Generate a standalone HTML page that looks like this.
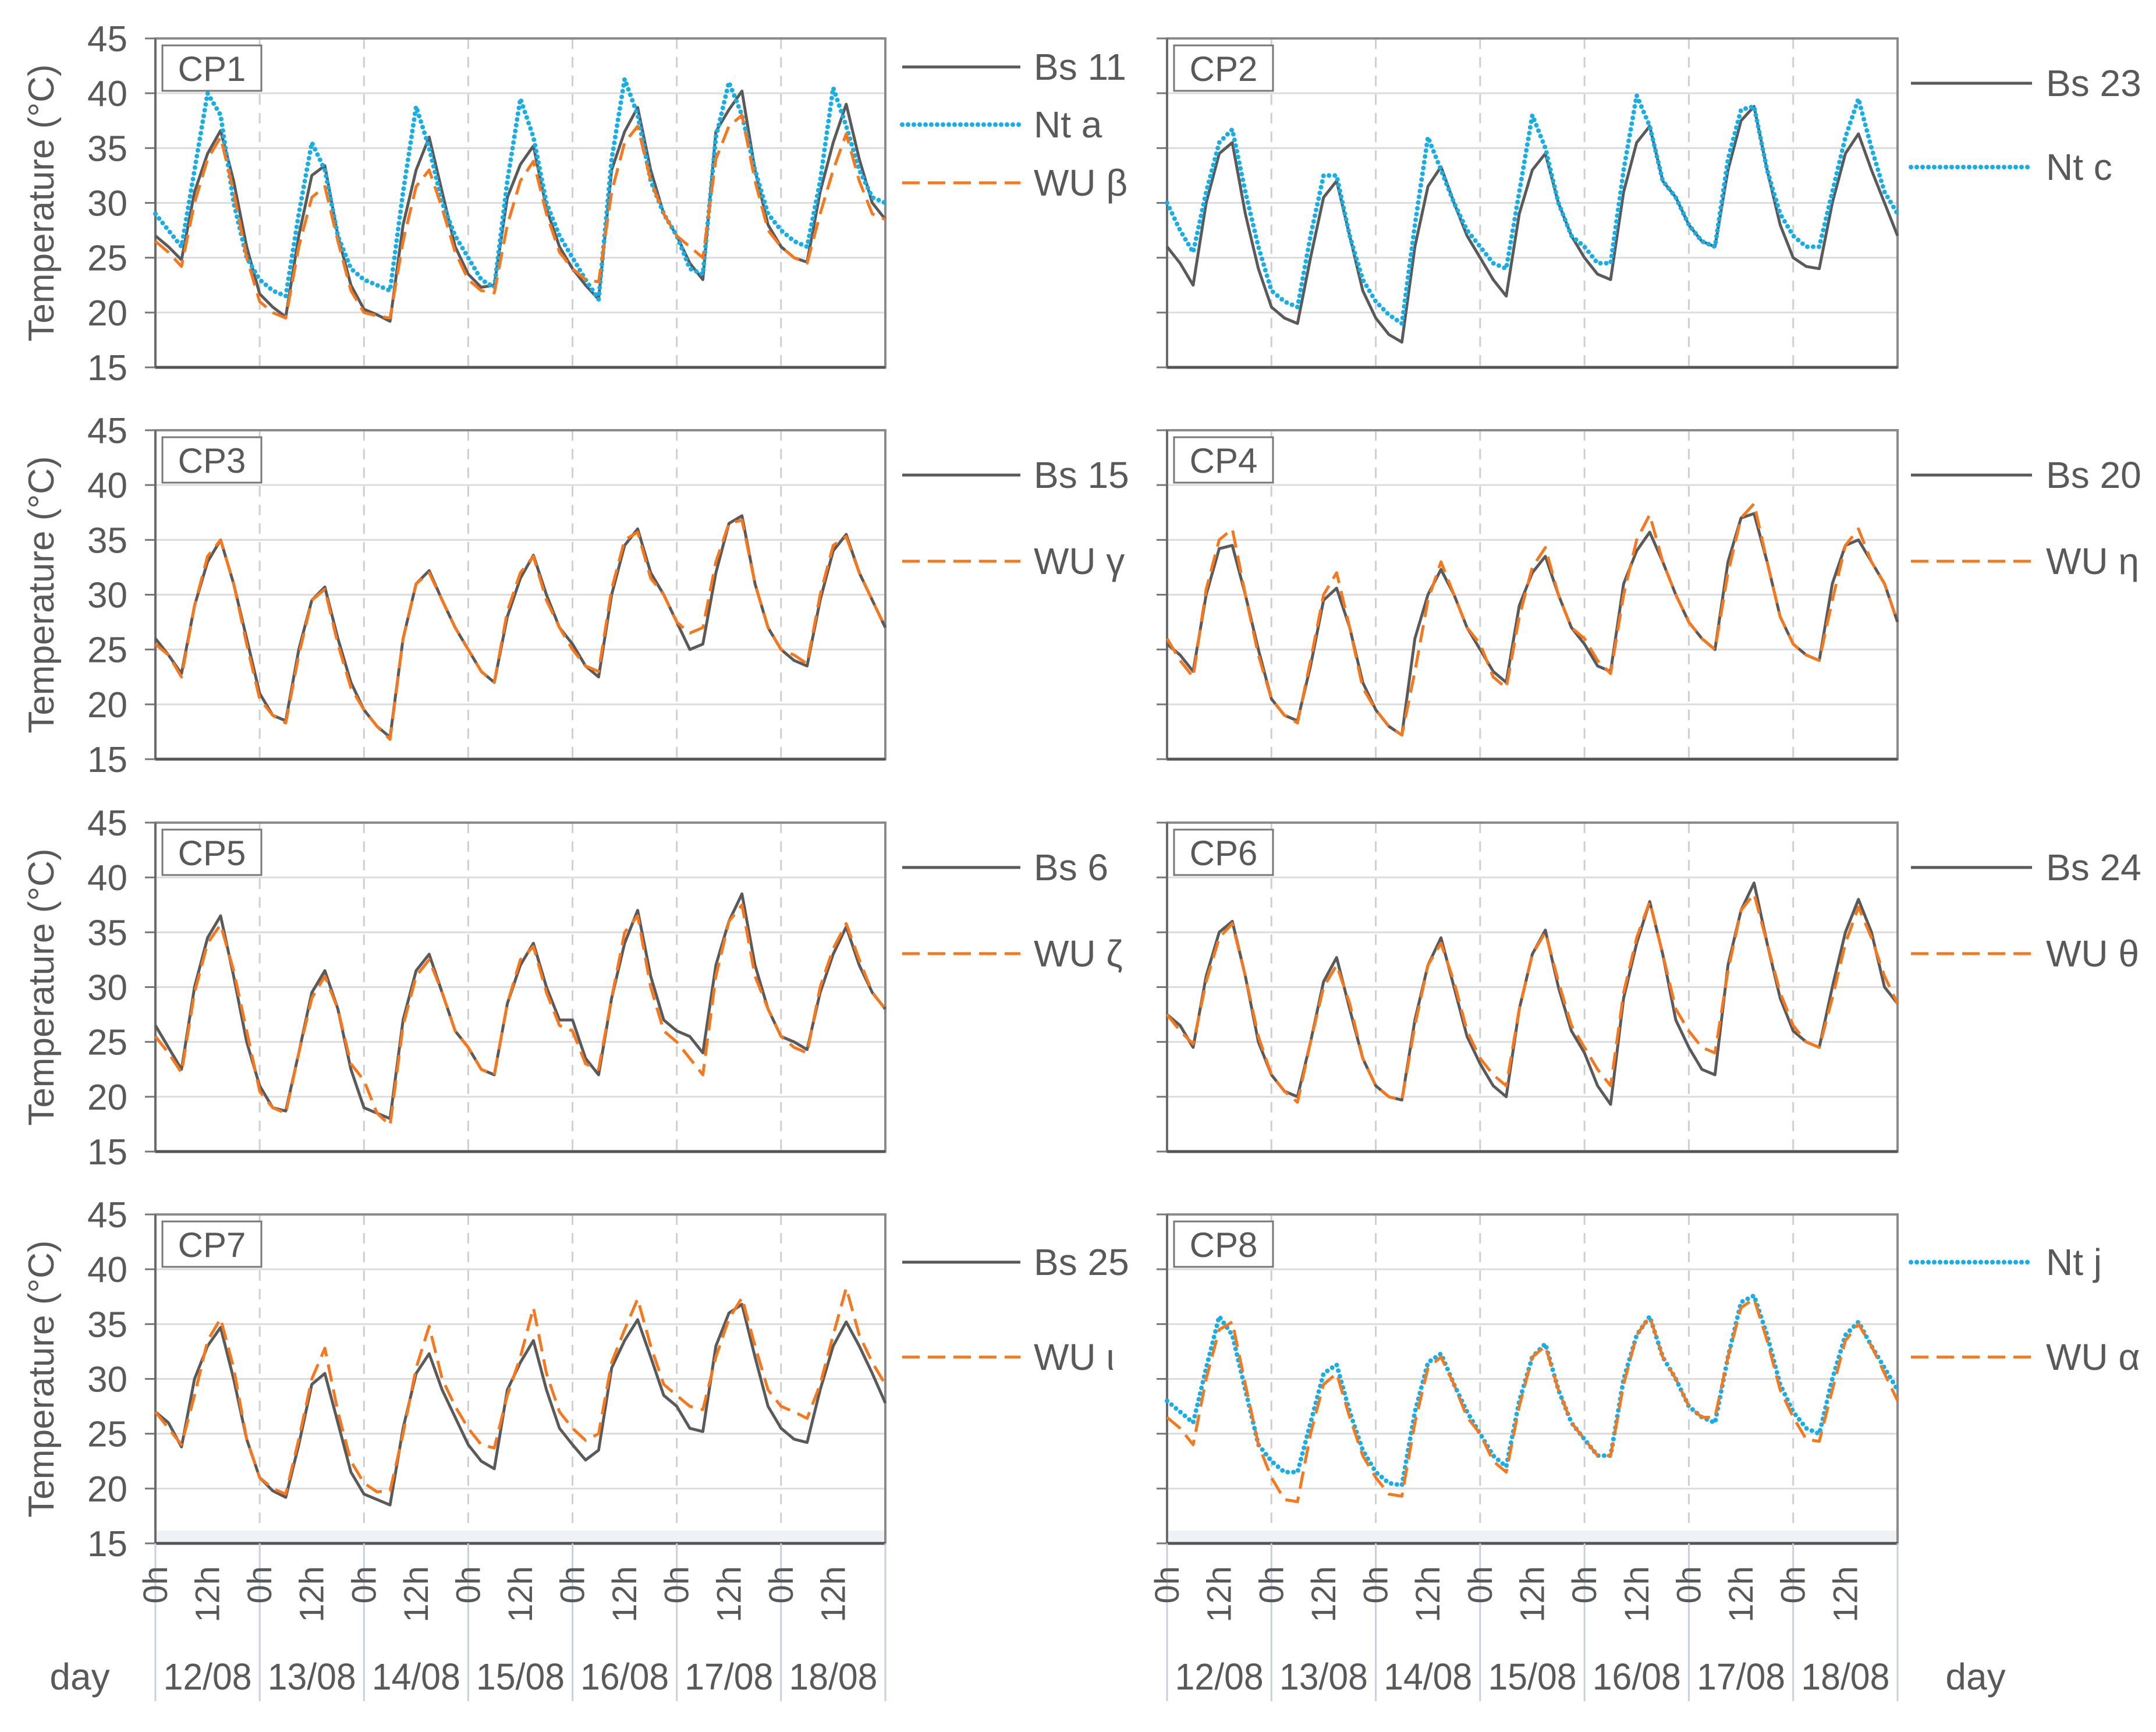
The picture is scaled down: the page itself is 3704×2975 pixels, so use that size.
<!DOCTYPE html>
<html><head><meta charset="utf-8"><style>
html,body{margin:0;padding:0;background:#fff;}
svg{display:block;font-family:"Liberation Sans","DejaVu Sans",sans-serif;}
</style></head><body>
<svg id="chart" width="3704" height="2975" viewBox="0 0 3704 2975" xmlns="http://www.w3.org/2000/svg"></svg>
<script>
const hours=[0,3,6,9,12,15,18,21,24,27,30,33,36,39,42,45,48,51,54,57,60,63,66,69,72,75,78,81,84,87,90,93,96,99,102,105,108,111,114,117,120,123,126,129,132,135,138,141,144,147,150,153,156,159,162,165,168];
const yTicks=[15,20,25,30,35,40,45];
const dayLabels=["12/08","13/08","14/08","15/08","16/08","17/08","18/08"];
const hourLabels=["0h","12h"];
const cp1Bs=[27,26,24.8,31,34.5,36.6,32,26,21.7,20.5,19.6,27,32.5,33.4,27,22.5,20.3,19.8,19.2,28,33,36,31,26,23.5,22.3,22.5,30.5,33.5,35.2,29.5,26,24,22.5,21.2,33,36.5,38.7,33,29,27,24.5,23,36.5,38.5,40.2,33,28,26,25,24.6,31,35.5,39,34,30,28.5];
const cp1Nt=[29,27.5,26,33,40,38,30,25,23,22,21.5,29,35.5,33,27,24,23,22.5,22,31,38.8,35,30,27,25,23,22.3,32,39.5,36,30,27,25,23,21.2,34,41.3,38,32,29,27,24,23.5,36,41,38,33,29,27.5,26.5,26,32,40.5,37,33,30.5,30];
const cp1Wu=[26.5,25.5,24.2,30,34,36,31,25,21,20,19.5,26,30.5,31.5,26.5,22,20,19.7,19.5,26.5,31.5,33,29.5,25.5,23,22,21.8,28,32,33.8,29,25.5,24,23,22.8,31,35.5,37,32,29,27,26,25,34,37,38,32,27.5,26,25,24.5,29,33,36.3,32,29,28.5];
const cp2Bs=[26,24.5,22.5,30,34.5,35.5,29,24,20.5,19.5,19,25,30.5,32,27,22,19.5,18,17.3,26,31.5,33.3,30,27,25,23,21.5,29,33,34.5,30,27,25,23.5,23,31,35.5,37,32,30.5,28,26.5,26,33,37.5,38.8,33,28,25,24.2,24,30,34.5,36.3,33,30,27];
const cp2Nt=[30,27.5,25.5,31,35.5,36.7,31,26,22,21,20.5,27,32.5,32.5,27,23,21,19.8,19,28,36,33,30,27.5,26,24.5,24,31,38,35,30,27,26,24.5,24.5,33,39.8,37,32,30.5,28,26.5,26,34,38.5,38.8,33,29,27,26,26,31,36,39.5,35,31,29];
const cp3Bs=[26,24.5,22.8,29,33,35,31,26,21,19,18.5,25,29.5,30.7,26,22,19.5,18,17,26,31,32.2,29.5,27,25,23,22,28,31.5,33.6,30,27,25.5,23.5,22.5,30,34.5,36,32,30,27.5,25,25.5,32,36.5,37.2,31,27,25,24,23.5,29.5,34,35.5,32,29.5,27];
const cp3Wu=[25.5,24.5,22.5,29,33.5,35,31,25.5,20.5,19,18.3,24.5,29.5,30.5,25.5,21.5,19.5,18,16.8,26,31,32,29.5,27,25,23,22,28.5,32,33.5,29.5,27,25,23.5,23,30.5,35,35.7,31.5,30,27.5,26.5,27,33,36.5,36.8,31,27,25,24.5,23.7,30,34.5,35.3,32,29.5,27];
const cp4Bs=[25.5,24.5,23,30,34.2,34.5,30,25,20.5,19,18.5,23.5,29.5,30.6,27,22,19.5,18,17.2,26,30,32.3,30,27,25,23,22,29,32,33.5,30,27,25.5,23.5,23,31,34,35.7,33,30,27.5,26,25,33,37,37.4,33,28,25.5,24.5,24,31,34.5,35,33,31,27.5];
const cp4Wu=[26,24,22.5,30.5,35,36,30,24.5,20.5,19,18.3,24,30,32,27,21.5,19.5,18,17.2,23,29.5,33,30,27,25.5,22.5,21.5,28,32.5,34.3,30,27,26,24,22.8,30,35,37.3,33,30,27.5,26,25,32,37,38.3,33,28,25.5,24.5,24,29.5,34.5,36,33,31,27.5];
const cp5Bs=[26.5,24.5,22.5,30,34.5,36.5,31,25,21,19,18.7,24,29.5,31.5,28,22.5,19,18.5,18,27,31.5,33,29.5,26,24.5,22.5,22,28.5,32,34,30,27,27,23.5,22,29,34,37,31,27,26,25.5,24,32,36,38.5,32,28,25.5,25,24.3,29.5,33,35.5,32,29.5,28];
const cp5Wu=[25.5,24,22.2,29.5,34,35.7,31.5,26,20.5,19,18.5,24,29,31,28,23,21.5,18.5,17.4,26.5,31,32.5,29.5,26,24.5,22.5,22,28.5,32.5,33.7,29.5,26.5,26,23,22.5,29,35,36.5,30,26,25,23.5,22,31,36,37.5,31,28,25.5,24.5,24,30,33.5,35.8,32.5,29.5,28];
const cp6Bs=[27.5,26.5,24.5,31,35,36,31,25,22,20.5,20,25,30.5,32.7,28,23.5,21,20,19.7,27,32,34.5,30,25.5,23,21,20,28,33,35.2,30,26,24,21,19.3,29,34,37.8,33,27,24.5,22.5,22,32,37,39.5,34,29,26,25,24.5,30,35,38,35,30,28.5];
const cp6Wu=[27.5,26,24.8,30.5,34.5,35.8,31,25.5,22,20.5,19.5,25,30,32,28.5,23.5,21,20,19.7,26.5,32,34,30.5,26,23.5,22,21,28,33,35,30.5,26.5,24.5,22.5,21,29.5,34.5,37.8,33,28,26,24.5,24,31.5,37,38.5,34,29.5,26.5,25,24.5,29,34,37.3,34.5,31,28.5];
const cp7Bs=[27,26,23.8,30,33,34.7,30,24.5,21,19.8,19.2,24,29.5,30.5,26,21.5,19.5,19,18.5,25.5,30.5,32.3,29,26.5,24,22.5,21.8,29,31.5,33.5,29,25.5,24,22.6,23.5,31,33.5,35.4,32,28.5,27.5,25.5,25.2,33,36,36.8,32,27.5,25.5,24.5,24.2,29,33,35.2,33,30.5,27.8];
const cp7Wu=[27,25.5,24,28.5,33.5,35.5,31,24.5,21,20,19.5,24.5,30,32.8,27,22.5,20.5,19.7,19.8,25,31,34.8,30,27.5,25.5,24,23.7,28.5,32,36.5,30.5,27,25.5,24.4,25,31.5,34.5,37.3,33,29.5,28.5,27.5,27.2,32,35.5,37.4,33,29,27.5,27,26.4,29.5,34,38.3,34,31.5,29.5];
const cp8Nt=[28,27,26,31,35.7,34,29,24,22.5,21.5,21.5,26,30.5,31.3,27,23.5,21.5,20.5,20.3,27,31.5,32.3,29.5,27,25,23,22,28,32,33.2,29,26,24.5,23,23,30,34,35.7,32,30,27.5,26.5,26,32,37,37.6,34,29.5,27,25.5,25,30,34,35.2,33,31,29];
const cp8Wu=[26.5,25.5,24,30,34.5,35.2,29.5,24,21,19,18.8,25,29.5,30.5,26.5,23,21,19.5,19.3,26,31,32,29.5,26.5,25,22.5,21.5,27.5,32,33,29,26,24.5,23,23,29.5,34,35.7,32,30,27.5,26.5,26.5,32,36.5,37.3,33.5,29,26.5,24.5,24.3,29,33.5,35,33,30.5,28];

const svg=document.getElementById('chart');
const NS='http://www.w3.org/2000/svg';
function mk(tag,attrs,parent){const e=document.createElementNS(NS,tag);for(const k in attrs)e.setAttribute(k,attrs[k]);(parent||svg).appendChild(e);return e;}
const STY={bs:{stroke:'#5a5a5a',w:5,dash:null,cap:'butt'},nt:{stroke:'#17ade6',w:8,dash:'0 10',cap:'round'},wu:{stroke:'#f5781e',w:5,dash:'30 14',cap:'butt'}};
const COLS=[{x0:267,x1:1521,legLine:1550,legLineEnd:1753,legText:1776},{x0:2005,x1:3260,legLine:3283,legLineEnd:3491,legText:3515}];
const ROWS=[66,739,1413,2086];const PH=565;
const panels=[
 {name:'CP1',col:0,row:0,series:[['bs','Bs 11',cp1Bs],['nt','Nt a',cp1Nt],['wu','WU β',cp1Wu]],legY:[49,148,248]},
 {name:'CP2',col:1,row:0,series:[['bs','Bs 23',cp2Bs],['nt','Nt c',cp2Nt]],legY:[77,221]},
 {name:'CP3',col:0,row:1,series:[['bs','Bs 15',cp3Bs],['wu','WU γ',cp3Wu]],legY:[77,225]},
 {name:'CP4',col:1,row:1,series:[['bs','Bs 20',cp4Bs],['wu','WU η',cp4Wu]],legY:[77,225]},
 {name:'CP5',col:0,row:2,series:[['bs','Bs 6',cp5Bs],['wu','WU ζ',cp5Wu]],legY:[77,225]},
 {name:'CP6',col:1,row:2,series:[['bs','Bs 24',cp6Bs],['wu','WU θ',cp6Wu]],legY:[77,225]},
 {name:'CP7',col:0,row:3,series:[['bs','Bs 25',cp7Bs],['wu','WU ι',cp7Wu]],legY:[82,245]},
 {name:'CP8',col:1,row:3,series:[['nt','Nt j',cp8Nt],['wu','WU α',cp8Wu]],legY:[82,245]}
];
panels.forEach(p=>{
 const C=COLS[p.col],top=ROWS[p.row],bot=top+PH;
 const xs=h=>C.x0+(h/168)*(C.x1-C.x0);
 const ys=v=>bot-(v-15)/30*PH;
 const g=mk('g',{});
 
 
 yTicks.forEach(t=>{
  if(t>15&&t<45){const l=mk('line',{x1:C.x0,x2:C.x1,y1:ys(t),y2:ys(t),stroke:'#dcdcdc','stroke-width':3},g);
   }
  const tk=mk('line',{x1:C.x0-18,x2:C.x0,y1:ys(t),y2:ys(t),stroke:'#777','stroke-width':3},g);
  
  if(p.col===0){const tx=mk('text',{x:C.x0-48,y:ys(t)+22,'text-anchor':'end','font-size':62,fill:'#595959'},g);tx.textContent=t;
   }
 });
 for(let d=1;d<7;d++){const x=xs(d*24);const l=mk('line',{x1:x,x2:x,y1:top,y2:bot,stroke:'#cfcfcf','stroke-width':3,'stroke-dasharray':'18 14'},g);
  }
 if(p.row===3){const hs=mk('rect',{x:C.x0,y:bot-22,width:C.x1-C.x0,height:22,fill:'#eef1f6'},g);
  }
 const fr=mk('rect',{x:C.x0,y:top,width:C.x1-C.x0,height:PH,fill:'none',stroke:'#8a8a8a','stroke-width':4},g);
 
 const ax=mk('line',{x1:C.x0,x2:C.x0,y1:top,y2:bot,stroke:'#6a6a6a','stroke-width':4},g);
 
 const bx=mk('line',{x1:C.x0,x2:C.x1,y1:bot,y2:bot,stroke:'#555','stroke-width':5},g);
 
 p.series.forEach((s,i)=>{
  const st=STY[s[0]];const vals=s[2];
  const pts=vals.map((v,j)=>xs(hours[j]).toFixed(1)+','+ys(v).toFixed(1)).join(' ');
  const a={points:pts,fill:'none',stroke:st.stroke,'stroke-width':st.w,'stroke-linecap':st.cap,'stroke-linejoin':'round'};
  if(st.dash)a['stroke-dasharray']=st.dash;
  const pl=mk('polyline',a,g);
  
  
  const ly=top+p.legY[i];
  const lg=mk('g',{},g);
  
  
  const la={x1:C.legLine,x2:C.legLineEnd,y1:ly,y2:ly,stroke:st.stroke,'stroke-width':st.w,'stroke-linecap':st.cap};
  if(st.dash)la['stroke-dasharray']=st.dash;
  mk('line',la,lg);
  const lt=mk('text',{x:C.legText,y:ly+22,'font-size':64,fill:'#595959'},lg);lt.textContent=s[1];
 });
 const lb=mk('g',{},g);
 
 
 mk('rect',{x:C.x0+12,y:top+12,width:170,height:78,fill:'#fff',stroke:'#777','stroke-width':3},lb);
 const lt=mk('text',{x:C.x0+97,y:top+73,'text-anchor':'middle','font-size':60,fill:'#595959'},lb);lt.textContent=p.name;
 if(p.col===0){const yt=mk('text',{x:0,y:0,transform:`translate(92,${top+PH/2}) rotate(-90)`,'text-anchor':'middle','font-size':62,fill:'#595959'},g);
  yt.textContent='Temperature (°C)';}
 if(p.row===3){
  for(let d=0;d<=7;d++){const x=xs(d*24);const l=mk('line',{x1:x,x2:x,y1:bot,y2:2922,stroke:'#c8d0dc','stroke-width':3},g);
   }
  for(let d=0;d<7;d++){
   hourLabels.forEach((hl,k)=>{const x=xs(d*24+k*12)+20;
    const t=mk('text',{x:0,y:0,transform:`translate(${x},2690) rotate(-90)`,'text-anchor':'end','font-size':58,fill:'#595959'},g);
    t.textContent=hl;});
   const t=mk('text',{x:xs(d*24+12),y:2902,'text-anchor':'middle','font-size':64,fill:'#595959',textLength:152,lengthAdjust:'spacingAndGlyphs'},g);
   t.textContent=dayLabels[d];
  }
  const dx=p.col===0?137:3394;
  const dt=mk('text',{x:dx,y:2902,'text-anchor':'middle','font-size':64,fill:'#595959'},g);
  dt.textContent='day';
 }
});
</script>
</body></html>
